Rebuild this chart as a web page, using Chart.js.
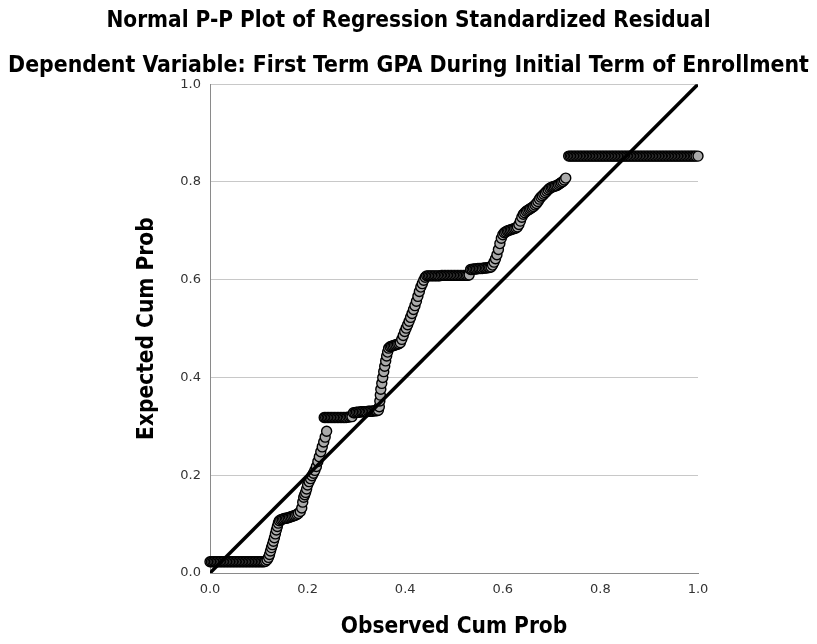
<!DOCTYPE html>
<html>
<head>
<meta charset="utf-8">
<title>Normal P-P Plot</title>
<script src="https://cdn.jsdelivr.net/npm/chart.js@4.4.1/dist/chart.umd.min.js"></script>
<style>
  body { margin: 0; background: #fff; }
  #wrap { width: 817px; height: 644px; }
</style>
</head>
<body>
<div id="wrap"><canvas id="ppChart" width="817" height="644"></canvas></div>
<script>
// observed vs expected cumulative probability (one line per stretch)
let observedCumProb = [
  // flat start
  0.000, 0.003, 0.006, 0.009, 0.012, 0.015, 0.018, 0.021, 0.024, 0.027,
  0.030, 0.033, 0.036, 0.039, 0.042, 0.045, 0.048, 0.051, 0.054, 0.057,
  0.060, 0.063, 0.066, 0.069, 0.072, 0.075, 0.078, 0.081, 0.084, 0.087,
  0.090, 0.093, 0.096, 0.099, 0.102, 0.105, 0.108, 0.111, 0.114,
  // first rise
  0.117, 0.120, 0.122, 0.124, 0.126, 0.128, 0.130, 0.132, 0.134, 0.136, 0.138, 0.140, 0.142,
  // step at 0.11
  0.145, 0.148, 0.151, 0.154, 0.157, 0.160, 0.163, 0.166, 0.169, 0.172, 0.175, 0.178, 0.181,
  // rise to 0.29
  0.185, 0.188, 0.190, 0.192, 0.194, 0.196, 0.198, 0.200, 0.203, 0.206,
  0.209, 0.212, 0.215, 0.218, 0.221, 0.224, 0.227, 0.230, 0.233, 0.236, 0.239,
  // step at 0.32
  0.234, 0.237, 0.240, 0.243, 0.246, 0.249, 0.252, 0.255, 0.258, 0.261,
  0.264, 0.267, 0.270, 0.273, 0.276, 0.279, 0.282, 0.285, 0.288, 0.291,
  // step at 0.33
  0.294, 0.297, 0.300, 0.303, 0.306, 0.309, 0.312, 0.315, 0.318, 0.321,
  0.324, 0.327, 0.330, 0.333, 0.336, 0.339, 0.342, 0.345,
  // rise to 0.61
  0.347, 0.348, 0.349, 0.350, 0.352, 0.354, 0.356, 0.358, 0.360, 0.362, 0.364, 0.366,
  0.369, 0.372, 0.375, 0.378, 0.381, 0.384, 0.387, 0.390,
  0.393, 0.396, 0.399, 0.402, 0.405, 0.408, 0.411, 0.414, 0.417, 0.420,
  0.423, 0.426, 0.429, 0.432, 0.435, 0.438, 0.441,
  // step at 0.61
  0.444, 0.447, 0.450, 0.453, 0.456, 0.459, 0.462, 0.465, 0.468, 0.471,
  0.474, 0.477, 0.480, 0.483, 0.486, 0.489, 0.492, 0.495, 0.498, 0.501,
  0.504, 0.507, 0.510, 0.513, 0.516, 0.519, 0.522, 0.525, 0.528, 0.531,
  // step at 0.62
  0.534, 0.537, 0.540, 0.543, 0.546, 0.549, 0.552, 0.555, 0.558, 0.561, 0.564, 0.567, 0.570, 0.573, 0.576,
  // rise to 0.81
  0.579, 0.582, 0.585, 0.588, 0.591, 0.594, 0.597, 0.600, 0.603, 0.606,
  0.609, 0.612, 0.615, 0.618, 0.621, 0.624, 0.627, 0.630, 0.633, 0.636,
  0.639, 0.642, 0.645, 0.648, 0.651, 0.654, 0.657, 0.660, 0.663, 0.666,
  0.669, 0.672, 0.675, 0.678, 0.681, 0.684, 0.687, 0.690, 0.693, 0.696,
  0.699, 0.702, 0.705, 0.708, 0.711, 0.714, 0.717, 0.720, 0.723, 0.726,
  0.729,
  // flat end at 0.85
  0.735, 0.738, 0.741, 0.744, 0.747, 0.750, 0.753, 0.756, 0.759, 0.762,
  0.765, 0.768, 0.771, 0.774, 0.777, 0.780, 0.783, 0.786, 0.789, 0.792,
  0.795, 0.798, 0.801, 0.804, 0.807, 0.810, 0.813, 0.816, 0.819, 0.822,
  0.825, 0.828, 0.831, 0.834, 0.837, 0.840, 0.843, 0.846, 0.849, 0.852,
  0.855, 0.858, 0.861, 0.864, 0.867, 0.870, 0.873, 0.876, 0.879, 0.882,
  0.885, 0.888, 0.891, 0.894, 0.897, 0.900, 0.903, 0.906, 0.909, 0.912,
  0.915, 0.918, 0.921, 0.924, 0.927, 0.930, 0.933, 0.936, 0.939, 0.942,
  0.945, 0.948, 0.951, 0.954, 0.957, 0.960, 0.963, 0.966, 0.969, 0.972,
  0.975, 0.978, 0.981, 0.984, 0.987, 0.990, 0.993, 0.996, 1.000
];
let expectedCumProb = [
  0.023, 0.023, 0.023, 0.023, 0.023, 0.023, 0.023, 0.023, 0.023, 0.023,
  0.023, 0.023, 0.023, 0.023, 0.023, 0.023, 0.023, 0.023, 0.023, 0.023,
  0.023, 0.023, 0.023, 0.023, 0.023, 0.023, 0.023, 0.023, 0.023, 0.023,
  0.023, 0.023, 0.023, 0.023, 0.023, 0.023, 0.023, 0.023, 0.024,
  0.027, 0.032, 0.038, 0.045, 0.052, 0.058, 0.065, 0.072, 0.080, 0.088, 0.095, 0.102, 0.107,
  0.109, 0.110, 0.111, 0.112, 0.112, 0.113, 0.114, 0.115, 0.116, 0.117, 0.118, 0.120, 0.122,
  0.126, 0.133, 0.145, 0.155, 0.160, 0.165, 0.172, 0.180, 0.187, 0.193,
  0.199, 0.204, 0.210, 0.218, 0.228, 0.238, 0.248, 0.258, 0.268, 0.278, 0.290,
  0.318, 0.318, 0.318, 0.318, 0.318, 0.318, 0.318, 0.318, 0.318, 0.318,
  0.318, 0.318, 0.318, 0.318, 0.318, 0.318, 0.319, 0.319, 0.320, 0.320,
  0.328, 0.328, 0.329, 0.329, 0.329, 0.330, 0.330, 0.330, 0.330, 0.330,
  0.331, 0.331, 0.331, 0.331, 0.332, 0.332, 0.332, 0.333,
  0.340, 0.352, 0.364, 0.376, 0.388, 0.400, 0.412, 0.423, 0.434, 0.444, 0.452, 0.460,
  0.463, 0.464, 0.465, 0.466, 0.467, 0.468, 0.469, 0.471,
  0.478, 0.486, 0.494, 0.501, 0.508, 0.515, 0.523, 0.531, 0.539, 0.547,
  0.556, 0.566, 0.576, 0.585, 0.592, 0.599, 0.605,
  0.608, 0.608, 0.608, 0.608, 0.608, 0.608, 0.608, 0.608, 0.608, 0.608,
  0.609, 0.609, 0.609, 0.609, 0.609, 0.609, 0.609, 0.609, 0.609, 0.609,
  0.609, 0.609, 0.609, 0.609, 0.609, 0.609, 0.609, 0.609, 0.609, 0.610,
  0.621, 0.621, 0.622, 0.622, 0.622, 0.623, 0.623, 0.623, 0.623, 0.624, 0.624, 0.624, 0.625, 0.625, 0.626,
  0.630, 0.636, 0.643, 0.651, 0.662, 0.674, 0.685, 0.692, 0.696, 0.698,
  0.700, 0.701, 0.702, 0.703, 0.704, 0.705, 0.706, 0.708, 0.713, 0.720,
  0.728, 0.734, 0.737, 0.740, 0.742, 0.744, 0.746, 0.748, 0.750, 0.753,
  0.756, 0.760, 0.765, 0.769, 0.772, 0.775, 0.778, 0.781, 0.784, 0.787,
  0.789, 0.790, 0.791, 0.792, 0.793, 0.795, 0.797, 0.799, 0.801, 0.804,
  0.808,
  0.853, 0.853, 0.853, 0.853, 0.853, 0.853, 0.853, 0.853, 0.853, 0.853,
  0.853, 0.853, 0.853, 0.853, 0.853, 0.853, 0.853, 0.853, 0.853, 0.853,
  0.853, 0.853, 0.853, 0.853, 0.853, 0.853, 0.853, 0.853, 0.853, 0.853,
  0.853, 0.853, 0.853, 0.853, 0.853, 0.853, 0.853, 0.853, 0.853, 0.853,
  0.853, 0.853, 0.853, 0.853, 0.853, 0.853, 0.853, 0.853, 0.853, 0.853,
  0.853, 0.853, 0.853, 0.853, 0.853, 0.853, 0.853, 0.853, 0.853, 0.853,
  0.853, 0.853, 0.853, 0.853, 0.853, 0.853, 0.853, 0.853, 0.853, 0.853,
  0.853, 0.853, 0.853, 0.853, 0.853, 0.853, 0.853, 0.853, 0.853, 0.853,
  0.853, 0.853, 0.853, 0.853, 0.853, 0.853, 0.853, 0.853, 0.853
];
// diagonal reference line
let refLineX = [0, 1];
let refLineY = [0, 1];
let tickValues = [0, 0.2, 0.4, 0.6, 0.8, 1.0];

let titleFont = "'DejaVu Sans Condensed', 'DejaVu Sans', sans-serif";
let tickFont = "'DejaVu Sans', sans-serif";

let residualPoints = observedCumProb.map(function(x, i) {
    return { x: x, y: expectedCumProb[i] };
});
let linePoints = refLineX.map(function(x, i) {
    return { x: x, y: refLineY[i] };
});

function fixedTicks(scale) {
    scale.ticks = tickValues.map(function(v) { return { value: v }; });
}

let ctx = document.getElementById('ppChart').getContext('2d');
let ppChart = new Chart(ctx, {
    type: 'scatter',
    data: {
        datasets: [
            {
                type: 'line',
                label: 'Reference',
                data: linePoints,
                borderColor: '#000',
                borderWidth: 3.5,
                pointRadius: 0,
                fill: false,
                order: 0
            },
            {
                label: 'Residuals',
                data: residualPoints,
                backgroundColor: '#aaaaaa',
                borderColor: '#000',
                borderWidth: 1.4,
                pointRadius: 5,
                clip: false,
                order: 1
            }
        ]
    },
    options: {
        responsive: false,
        animation: false,
        layout: { padding: 0 },
        plugins: {
            legend: { display: false },
            tooltip: { enabled: false },
            title: {
                display: true,
                text: 'Normal P-P Plot of Regression Standardized Residual',
                color: '#000',
                font: { family: titleFont, size: 22.4, weight: 'bold', lineHeight: 1.2 },
                padding: { top: 8, bottom: 18 }
            },
            subtitle: {
                display: true,
                text: 'Dependent Variable: First Term GPA During Initial Term of Enrollment',
                color: '#000',
                font: { family: titleFont, size: 22.8, weight: 'bold', lineHeight: 1.2 },
                padding: { top: 0, bottom: 4 }
            }
        },
        scales: {
            x: {
                type: 'linear',
                min: 0,
                max: 1,
                afterBuildTicks: fixedTicks,
                afterFit: function(scale) { scale.height = 71; },
                grid: { display: false, drawTicks: false },
                border: { display: true, color: '#8a8a8a', width: 1 },
                ticks: {
                    color: '#333',
                    padding: 9,
                    maxRotation: 0,
                    font: { family: tickFont, size: 13 },
                    callback: function(v) { return v.toFixed(1); }
                },
                title: {
                    display: true,
                    text: 'Observed Cum Prob',
                    color: '#000',
                    font: { family: titleFont, size: 22.5, weight: 'bold', lineHeight: 1.2 },
                    padding: { top: 0, bottom: 3 }
                }
            },
            y: {
                type: 'linear',
                min: 0,
                max: 1,
                afterBuildTicks: fixedTicks,
                afterFit: function(scale) { scale.width = 210; },
                grid: { color: '#c8c8c8', lineWidth: 1, drawTicks: false },
                border: { display: true, color: '#8a8a8a', width: 1 },
                ticks: {
                    color: '#333',
                    padding: 9,
                    font: { family: tickFont, size: 13 },
                    callback: function(v) { return v.toFixed(1); }
                },
                title: {
                    display: true,
                    text: 'Expected Cum Prob',
                    color: '#000',
                    font: { family: titleFont, size: 22.5, weight: 'bold', lineHeight: 1.2 },
                    padding: { top: 134, bottom: 0 }
                }
            },
            // empty right-hand box so the plot ends at the same place as the original
            yRight: {
                type: 'linear',
                position: 'right',
                display: true,
                afterFit: function(scale) { scale.width = 119; },
                grid: { display: false, drawTicks: false },
                border: { display: false },
                ticks: { display: false }
            }
        }
    }
});
</script>
</body>
</html>
